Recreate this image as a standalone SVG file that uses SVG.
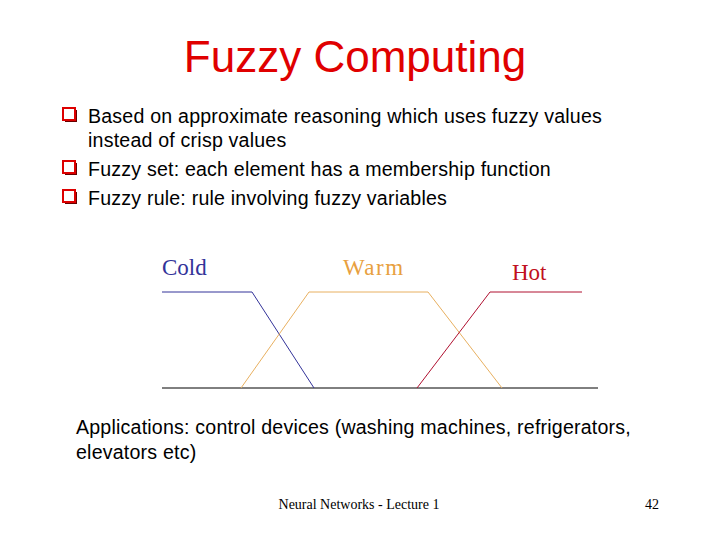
<svg xmlns="http://www.w3.org/2000/svg" width="720" height="540" viewBox="0 0 720 540">
<style>
.b{font-family:"Liberation Sans",Arial,sans-serif;font-size:19.6px;fill:#000;letter-spacing:0.2px}
.s{font-family:"Liberation Serif","Times New Roman",serif;font-size:23px}
</style>
<defs>
<g id="box"><rect x="2" y="2" width="12" height="12" fill="#600"/><rect x="0" y="0" width="12" height="12" fill="#fff" stroke="#d00" stroke-width="2"/></g>
</defs>
<rect width="720" height="540" fill="#fff"/>
<text x="355" y="72" text-anchor="middle" font-family="Liberation Sans,Arial,sans-serif" font-size="44" fill="#e00000">Fuzzy Computing</text>
<use href="#box" x="63" y="108"/>
<use href="#box" x="63" y="161"/>
<use href="#box" x="63" y="190"/>
<text class="b" x="88" y="123">Based on approximate reasoning which uses fuzzy values</text>
<text class="b" x="88" y="147">instead of crisp values</text>
<text class="b" x="88" y="176">Fuzzy set:  each element has a membership function</text>
<text class="b" x="88" y="205">Fuzzy rule: rule involving fuzzy variables</text>
<g id="labels">
<text class="s" x="162" y="275" fill="#333399">Cold</text>
<text class="s" x="343" y="275" fill="#e8a040" letter-spacing="1.5">Warm</text>
<text class="s" x="512" y="280" fill="#c01020">Hot</text>
</g>
<g id="connectors" fill="none" stroke-width="1">
<line x1="162" y1="388" x2="598" y2="388" stroke="#000"/>
<polyline points="162,292 252,292 314,388" stroke="#333399"/>
<polyline points="241,388 309,292 428,292 502,388" stroke="#e8b060"/>
<polyline points="417,388 490,292 582,292" stroke="#b01030"/>
</g>
<text class="b" x="76" y="434">Applications: control devices (washing machines, refrigerators,</text>
<text class="b" x="76" y="459">elevators etc)</text>
<text x="359" y="509" text-anchor="middle" font-family="Liberation Serif,serif" font-size="14">Neural Networks - Lecture 1</text>
<text x="659" y="509" text-anchor="end" font-family="Liberation Serif,serif" font-size="14">42</text>
</svg>
